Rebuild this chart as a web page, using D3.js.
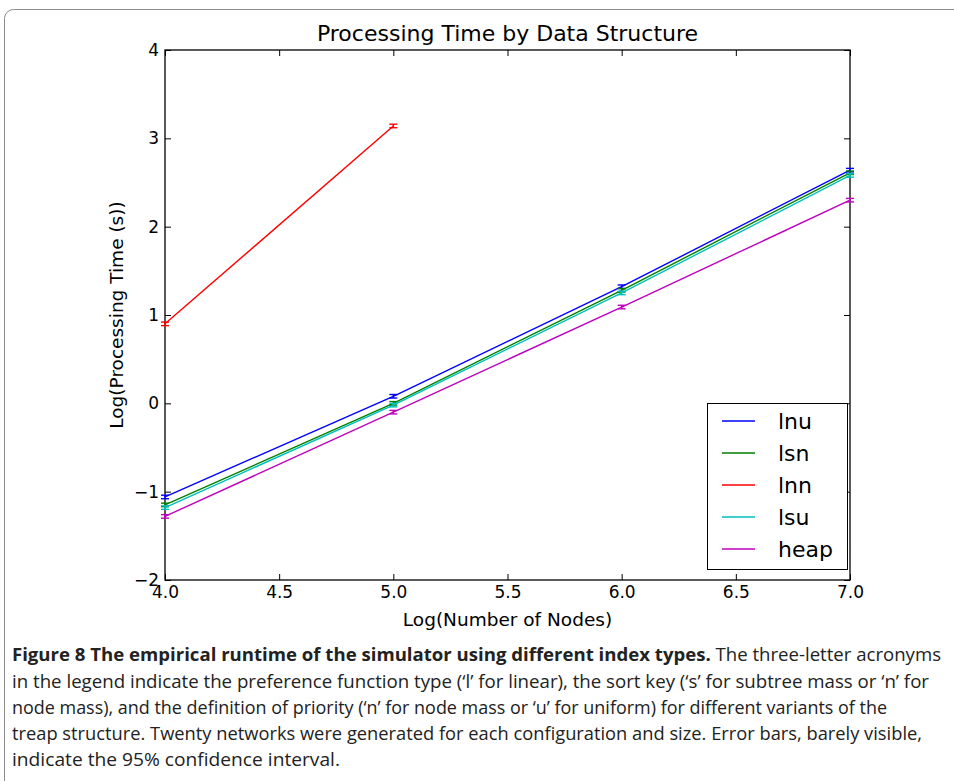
<!DOCTYPE html>
<html>
<head>
<meta charset="utf-8">
<script src="https://cdn.jsdelivr.net/npm/d3@7"></script>
<style>
  body { margin: 0; background: #fff; }
  svg { display: block; }
</style>
</head>
<body>
<svg width="954" height="781"></svg>
<script>
// data (log10 values)
var nodes = [4, 5, 6, 7];
var seriesNames = ['lnu', 'lsn', 'lnn', 'lsu', 'heap'];
var seriesColors = ['#0000ff', '#008000', '#ff0000', '#00bfbf', '#bf00bf'];
var lnu = [-1.06, 0.08, 1.32, 2.64];
var lsn = [-1.15, 0.00, 1.28, 2.61];
var lnn = [0.90, 3.14];
var lsu = [-1.18, -0.02, 1.25, 2.58];
var heap = [-1.28, -0.10, 1.09, 2.30];
var errs = [0.02, 0.02, 0.02, 0.02];
var xTicks = [4.0, 4.5, 5.0, 5.5, 6.0, 6.5, 7.0];
var yTicks = [-2, -1, 0, 1, 2, 3, 4];

var captionBold = 'Figure 8 The empirical runtime of the simulator using different index types.';
var captionLines = [
  ' The three-letter acronyms',
  'in the legend indicate the preference function type (\u2018l\u2019 for linear), the sort key (\u2018s\u2019 for subtree mass or \u2018n\u2019 for',
  'node mass), and the definition of priority (\u2018n\u2019 for node mass or \u2018u\u2019 for uniform) for different variants of the',
  'treap structure. Twenty networks were generated for each configuration and size. Error bars, barely visible,',
  'indicate the 95% confidence interval.'
];

var allSeries = [lnu, lsn, lnn, lsu, heap];

var svg = d3.select('svg');
var font = 'DejaVu Sans, sans-serif';

// figure frame
svg.append('rect')
  .attr('x', 4.5).attr('y', 9.5)
  .attr('width', 1000).attr('height', 900)
  .attr('rx', 9)
  .attr('fill', 'none')
  .attr('stroke', '#8c8c8c')
  .attr('stroke-width', 1);

var pLeft = 165, pRight = 850, pTop = 50, pBottom = 580;

var x = d3.scaleLinear().domain([4, 7]).range([pLeft, pRight]);
var y = d3.scaleLinear().domain([-2, 4]).range([pBottom, pTop]);

var fmtY = function(d) { return d < 0 ? '\u2212' + Math.abs(d) : String(d); };

// axes with inward ticks on all sides
var gx = svg.append('g').attr('transform', 'translate(0,' + pBottom + ')')
  .call(d3.axisBottom(x).tickValues(xTicks).tickFormat(d3.format('.1f')).tickSizeInner(-6).tickSizeOuter(0).tickPadding(8));
var gxt = svg.append('g').attr('transform', 'translate(0,' + pTop + ')')
  .call(d3.axisTop(x).tickValues(xTicks).tickFormat('').tickSizeInner(-6).tickSizeOuter(0));
var gy = svg.append('g').attr('transform', 'translate(' + pLeft + ',0)')
  .call(d3.axisLeft(y).tickValues(yTicks).tickFormat(fmtY).tickSizeInner(-6).tickSizeOuter(0).tickPadding(6));
var gyr = svg.append('g').attr('transform', 'translate(' + pRight + ',0)')
  .call(d3.axisRight(y).tickValues(yTicks).tickFormat('').tickSizeInner(-6).tickSizeOuter(0));

[gx, gxt, gy, gyr].forEach(function(g) {
  g.select('.domain').remove();
  g.selectAll('line').attr('stroke', '#000').attr('stroke-width', 1);
  g.selectAll('text').attr('font-family', font).attr('font-size', 17).attr('fill', '#000');
});
gx.selectAll('text').attr('dy', '0.6em');

svg.append('rect')
  .attr('x', pLeft).attr('y', pTop)
  .attr('width', pRight - pLeft).attr('height', pBottom - pTop)
  .attr('fill', 'none').attr('stroke', '#000').attr('stroke-width', 1.3);

// lines and error bars
var plot = svg.append('g');
allSeries.forEach(function(vals, i) {
  var pts = vals.map(function(v, j) { return { x: nodes[j], y: v, e: errs[j] }; });
  plot.append('path')
    .datum(pts)
    .attr('fill', 'none')
    .attr('stroke', seriesColors[i])
    .attr('stroke-width', 1.4)
    .attr('d', d3.line().x(function(d) { return x(d.x); }).y(function(d) { return y(d.y); }));
  var eb = plot.selectAll('.eb' + i).data(pts).enter().append('g');
  eb.append('line')
    .attr('x1', function(d) { return x(d.x); }).attr('x2', function(d) { return x(d.x); })
    .attr('y1', function(d) { return y(d.y - d.e); }).attr('y2', function(d) { return y(d.y + d.e); })
    .attr('stroke', seriesColors[i]).attr('stroke-width', 1.4);
  [-1, 1].forEach(function(s) {
    eb.append('line')
      .attr('x1', function(d) { return x(d.x) - 4; }).attr('x2', function(d) { return x(d.x) + 4; })
      .attr('y1', function(d) { return y(d.y + s * d.e); }).attr('y2', function(d) { return y(d.y + s * d.e); })
      .attr('stroke', seriesColors[i]).attr('stroke-width', 1.4);
  });
});

// title and axis labels
svg.append('text')
  .attr('x', (pLeft + pRight) / 2).attr('y', 41)
  .attr('text-anchor', 'middle')
  .attr('font-family', font).attr('font-size', 22)
  .text('Processing Time by Data Structure');

svg.append('text')
  .attr('x', (pLeft + pRight) / 2).attr('y', 626)
  .attr('text-anchor', 'middle')
  .attr('font-family', font).attr('font-size', 18.5)
  .text('Log(Number of Nodes)');

svg.append('text')
  .attr('transform', 'translate(123,' + ((pTop + pBottom) / 2) + ') rotate(-90)')
  .attr('text-anchor', 'middle')
  .attr('font-family', font).attr('font-size', 18.5)
  .text('Log(Processing Time (s))');

// legend
var lg = svg.append('g');
lg.append('rect')
  .attr('x', 707.5).attr('y', 403.5)
  .attr('width', 140).attr('height', 166)
  .attr('fill', '#fff').attr('stroke', '#000').attr('stroke-width', 1);
seriesNames.forEach(function(name, i) {
  var ly = 421 + i * 32;
  lg.append('line')
    .attr('x1', 722).attr('x2', 755).attr('y1', ly).attr('y2', ly)
    .attr('stroke', seriesColors[i]).attr('stroke-width', 1.4);
  lg.append('text')
    .attr('x', 778).attr('y', ly + 8)
    .attr('font-family', font).attr('font-size', 22)
    .text(name);
});

// caption
var capFont = 'Open Sans, sans-serif';
var capY = [661, 688, 714, 740, 766];
var capEnds = [941, 929, 887, 922, 340];
var t0 = svg.append('text')
  .attr('x', 12).attr('y', capY[0])
  .attr('font-family', capFont).attr('font-size', 18).attr('fill', '#222')
  .attr('textLength', capEnds[0] - 12).attr('lengthAdjust', 'spacingAndGlyphs');
t0.append('tspan').attr('font-weight', 'bold').text(captionBold);
t0.append('tspan').text(captionLines[0]);
captionLines.slice(1).forEach(function(line, i) {
  svg.append('text')
    .attr('x', 12).attr('y', capY[i + 1])
    .attr('font-family', capFont).attr('font-size', 18).attr('fill', '#222')
    .attr('textLength', capEnds[i + 1] - 12).attr('lengthAdjust', 'spacingAndGlyphs')
    .text(line);
});
</script>
</body>
</html>
